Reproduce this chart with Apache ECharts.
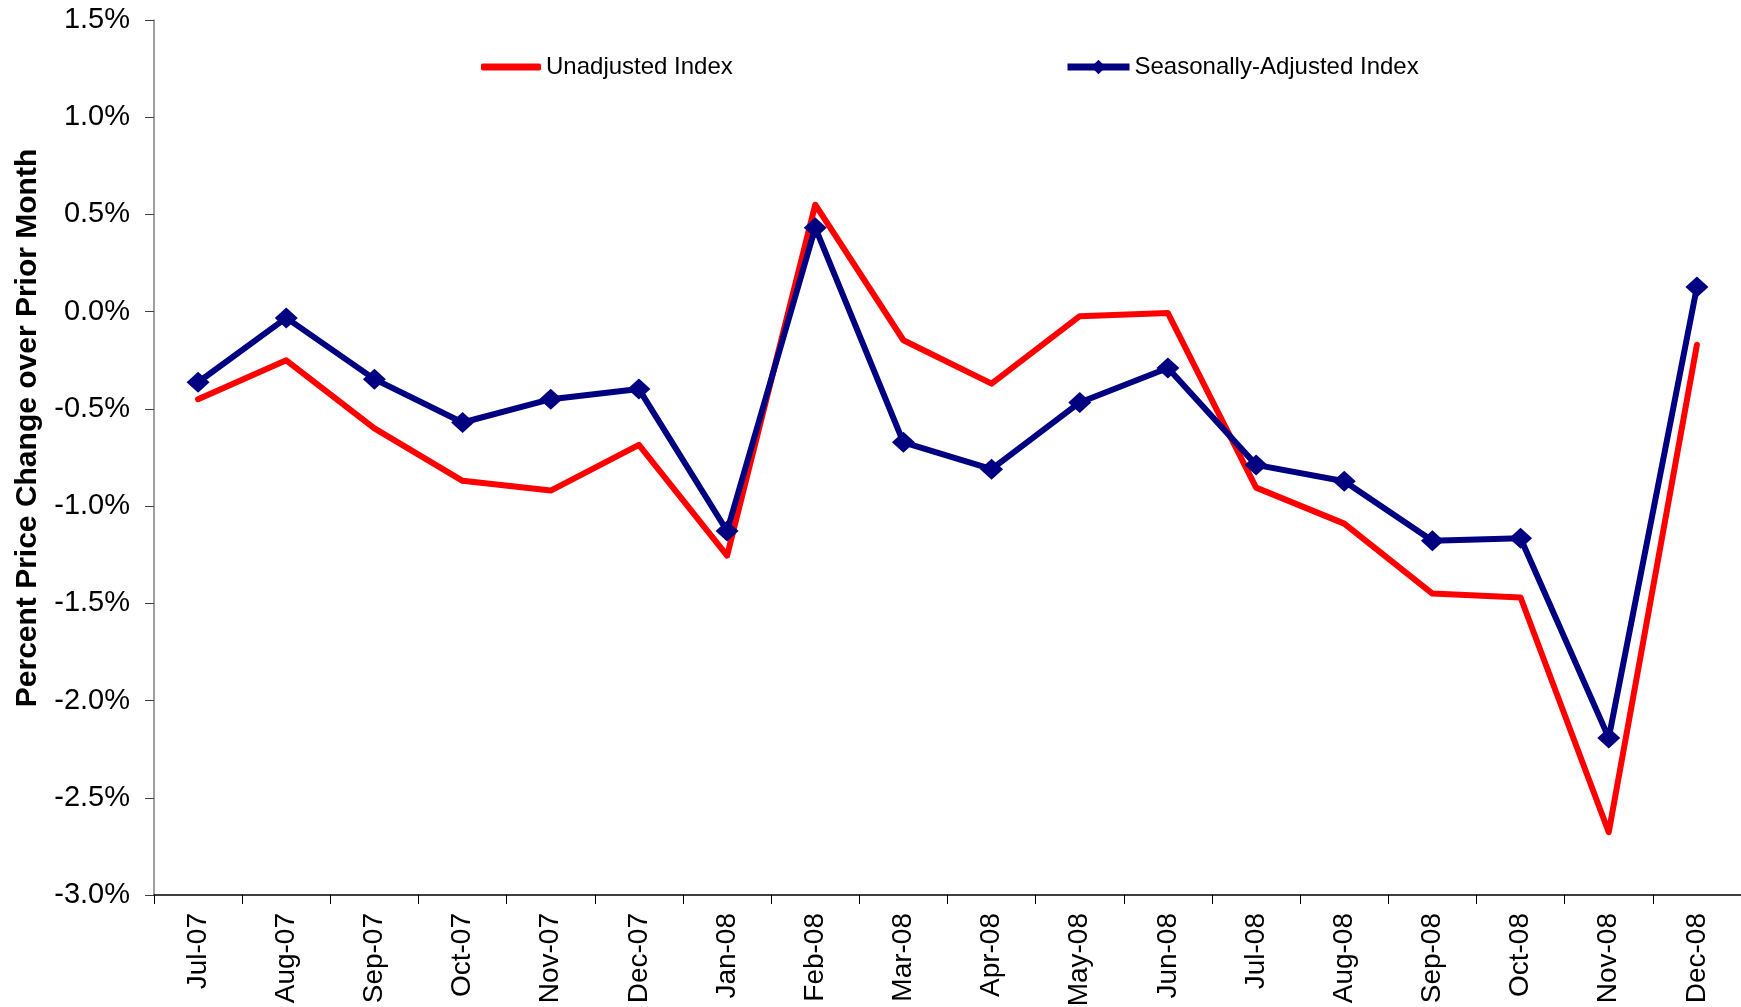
<!DOCTYPE html>
<html>
<head>
<meta charset="utf-8">
<script src="https://cdn.jsdelivr.net/npm/echarts@6/dist/echarts.min.js"></script>
<style>
html,body{margin:0;padding:0;background:#fff;}
#chart{width:1741px;height:1007px;}
</style>
</head>
<body>
<div id="chart"></div>
<script>
const categories = ['Jul-07','Aug-07','Sep-07','Oct-07','Nov-07','Dec-07','Jan-08','Feb-08','Mar-08','Apr-08','May-08','Jun-08','Jul-08','Aug-08','Sep-08','Oct-08','Nov-08','Dec-08'];
const unadjusted = [-0.45,-0.25,-0.60,-0.87,-0.92,-0.685,-1.255,0.55,-0.147,-0.37,-0.023,-0.007,-0.905,-1.09,-1.45,-1.47,-2.677,-0.17];
const seasonallyAdjusted = [-0.363,-0.032,-0.347,-0.57,-0.45,-0.398,-1.128,0.432,-0.672,-0.81,-0.467,-0.29,-0.788,-0.872,-1.178,-1.165,-2.192,0.127];
const yTitle = 'Percent Price Change over Prior Month';
const seriesNames = ['Unadjusted Index','Seasonally-Adjusted Index'];

const FONT = '"Liberation Sans", Arial, sans-serif';
const chart = echarts.init(document.getElementById('chart'), null, {renderer:'canvas'});
chart.setOption({
  animation:false,
  backgroundColor:'#fff',
  grid:{left:154,right:0,top:20,bottom:112,containLabel:false,outerBoundsMode:'none'},
  legend:[
    {data:[{name:seriesNames[0],icon:'roundRect'}],left:481,top:55,padding:0,itemWidth:60,itemHeight:7,
     itemStyle:{color:'#FF0000'},
     textStyle:{fontFamily:FONT,fontSize:24,color:'#000'}},
    {data:[seriesNames[1]],left:1064,top:55,padding:0,itemWidth:62,itemHeight:18,
     lineStyle:{width:7,color:'#000080'},
     textStyle:{fontFamily:FONT,fontSize:24,color:'#000'}}
  ],
  graphic:[{
    type:'text',x:28,y:428,rotation:Math.PI/2,
    style:{text:yTitle,font:'bold 30px "Liberation Sans", Arial, sans-serif',fill:'#000',
      textAlign:'center',textVerticalAlign:'middle'}
  }],
  xAxis:{
    type:'category',data:categories,boundaryGap:true,
    axisLine:{onZero:false,lineStyle:{color:'#000',width:1.5}},
    axisTick:{show:true,length:9,interval:0,lineStyle:{color:'#000'}},
    axisLabel:{rotate:90,interval:0,margin:18,fontFamily:FONT,fontSize:28,color:'#000'},
    splitLine:{show:false}
  },
  yAxis:{
    type:'value',min:-3,max:1.5,interval:0.5,
    axisLine:{show:true,lineStyle:{color:'#808080',width:1.5}},
    axisTick:{show:true,length:9,lineStyle:{color:'#404040'}},
    axisLabel:{margin:24,fontFamily:FONT,fontSize:29,color:'#000',
      formatter:v=>v.toFixed(1)+'%'},
    splitLine:{show:false}
  },
  series:[
    {name:seriesNames[0],type:'line',data:unadjusted,symbol:'none',
     lineStyle:{color:'#FF0000',width:6,cap:'round',join:'round'},itemStyle:{color:'#FF0000'},z:2},
    {name:seriesNames[1],type:'line',data:seasonallyAdjusted,symbol:'diamond',symbolSize:[23,21],
     lineStyle:{color:'#000080',width:6,join:'round'},itemStyle:{color:'#000080'},z:3}
  ]
});
</script>
</body>
</html>
